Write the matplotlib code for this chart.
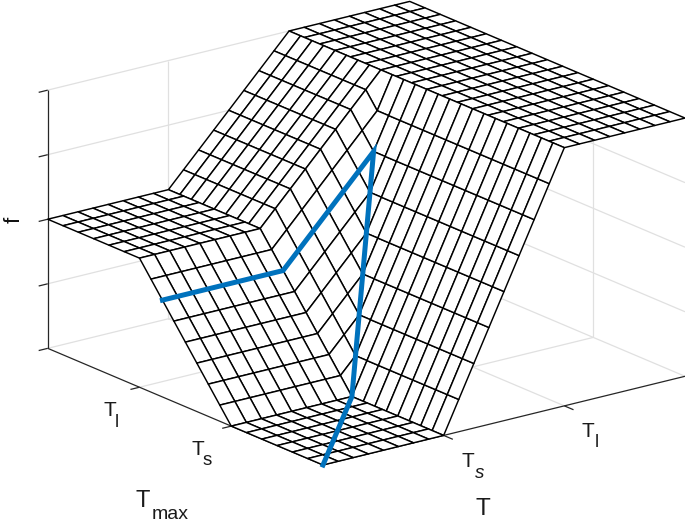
import matplotlib
matplotlib.use("Agg")
import matplotlib.pyplot as plt
import numpy as np
from mpl_toolkits.mplot3d import proj3d

plt.rcParams['font.family'] = ['Liberation Sans', 'DejaVu Sans']

# the surface is made of patches with different mesh density, heights read in 1/16ths of f
# middle strip, Ts < T < Tl: 25 rows along Tmax, 9 nodes along T
mid_rows = [
    [0,2,4,6,8,10,12,14,16],
    [0,2,4,6,8,10,12,14,16],
    [0,2,4,6,8,10,12,14,16],
    [0,2,4,6,8,10,12,14,16],
    [0,2,4,6,8,10,12,14,16],
    [0,2,4,6,8,10,12,14,16],
    [0,2,4,6,8,10,12,14,16],
    [0,2,4,6,8,10,12,14,16],
    [0,2,4,6,8,10,12,14,16],
    [1,2,4,6,8,10,12,14,16],
    [2,3,4,6,8,10,12,14,16],
    [3,4,5,6,8,10,12,14,16],
    [4,5,6,7,8,10,12,14,16],
    [5,6,7,8,9,10,12,14,16],
    [6,7,8,9,10,11,12,14,16],
    [7,8,9,10,11,12,13,14,16],
    [8,9,10,11,12,13,14,15,16],
    [8,9,10,11,12,13,14,15,16],
    [8,9,10,11,12,13,14,15,16],
    [8,9,10,11,12,13,14,15,16],
    [8,9,10,11,12,13,14,15,16],
    [8,9,10,11,12,13,14,15,16],
    [8,9,10,11,12,13,14,15,16],
    [8,9,10,11,12,13,14,15,16],
    [8,9,10,11,12,13,14,15,16],
]
# T < Ts, Ts < Tmax < Tl: height along Tmax, constant along T
left_slope = [0, 1, 2, 3, 4, 5, 6, 7, 8]
floor_level = 0
left_plateau_level = 8
top_plateau_level = 16

# blue path on the surface
path_T = [0, 1, 1.75, 1, 0]
path_Tmax = [0, 1, 1.75, 1.75, 1.75]
path_f = [0, 0, 0.75, 0.375, 0.375]

T_ticks = [1, 2]
Tmax_ticks = [1, 2]
f_ticks = [0, 0.25, 0.5, 0.75, 1]
T_end = 3
Tmax_end = 3

GRID = '#e0e0e0'
AXIS = '#262626'
W, H = 685, 524

fig = plt.figure(figsize=(W / 100, H / 100), dpi=100)
ax = fig.add_axes([0.1, 0.1, 0.8, 0.8 * W / H], projection='3d', proj_type='ortho')
ax.computed_zorder = False
ax.view_init(elev=18.8, azim=-127.25)
ax.set_box_aspect((456, 456, 273.5))
ax.set_xlim(0, T_end)
ax.set_ylim(0, Tmax_end)
ax.set_zlim(0, 1)
ax.set_axis_off()


def to_px(t, m, z):
    x, y, _ = proj3d.proj_transform(t, m, z, ax.get_proj())
    return ax.transData.transform((x, y))


# fit the box to where the reference has it (front corner 323,465 -> T end 685,376)
ax.apply_aspect()
scale = 362 / (to_px(T_end, 0, 0)[0] - to_px(0, 0, 0)[0])
pos = ax.get_position()
ax.set_position([pos.x0, pos.y0, pos.width * scale, pos.height * scale])
ax.apply_aspect()
off = np.array([323, H - 465]) - to_px(0, 0, 0)
pos = ax.get_position()
ax.set_position([pos.x0 + off[0] / W, pos.y0 + off[1] / H, pos.width, pos.height])
ax.apply_aspect()


def seg(ts, ms, zs, color=GRID, lw=0.9, zorder=1):
    ax.plot(ts, ms, zs, color=color, lw=lw, zorder=zorder, clip_on=False, solid_capstyle='butt')


# walls and floor grid
for t in T_ticks:
    seg([t, t], [0, Tmax_end], [0, 0])
    seg([t, t], [Tmax_end, Tmax_end], [0, 1])
for m in Tmax_ticks:
    seg([0, T_end], [m, m], [0, 0])
    seg([T_end, T_end], [m, m], [0, 1])
for z in f_ticks:
    seg([0, T_end], [Tmax_end, Tmax_end], [z, z])
    seg([T_end, T_end], [0, Tmax_end], [z, z])

# axis lines and ticks
seg([0, 0], [0, Tmax_end], [0, 0], AXIS, 0.9, 2)
seg([0, T_end], [0, 0], [0, 0], AXIS, 0.9, 2)
seg([0, 0], [Tmax_end, Tmax_end], [0, 1], AXIS, 0.9, 2)
for z in f_ticks:
    seg([-0.075, 0], [Tmax_end, Tmax_end], [z, z], AXIS, 0.9, 2)
for m in Tmax_ticks:
    seg([-0.075, 0], [m, m], [0, 0], AXIS, 0.9, 2)
for t in T_ticks:
    seg([t, t], [-0.1, 0], [0, 0], AXIS, 0.9, 2)


def patch(t0, t1, m0, m1, levels, zorder):
    # levels: rows along Tmax, 9 nodes along T, in 1/16ths
    levels = np.array(levels) / 16.0
    tt, mm = np.meshgrid(np.linspace(t0, t1, levels.shape[1]), np.linspace(m0, m1, levels.shape[0]))
    ax.plot_surface(tt, mm, levels, rstride=1, cstride=1, color='white',
                    edgecolor='black', linewidth=1.05, shade=False, zorder=zorder)


# back to front, the camera sits on the low T, low Tmax side
patch(2, 3, 0, 3, [[top_plateau_level] * 9] * 19, 3.0)
patch(1, 2, 0, 3, mid_rows, 3.1)
patch(0, 1, 2, 3, [[left_plateau_level] * 9] * 7, 3.2)
patch(0, 1, 1, 2, [[v] * 9 for v in left_slope], 3.3)
patch(0, 1, 0, 1, [[floor_level] * 9] * 7, 3.4)

ax.plot(path_T, path_Tmax, path_f, color='#0072BD', lw=3.6, zorder=4, clip_on=False,
        solid_joinstyle='miter')


def label(px, py, s, size, **kw):
    # px, py = left end and baseline, in picture pixels
    fig.text(px / W, 1 - py / H, s, fontsize=size, ha='left', va='baseline', color='#1a1a1a', **kw)


fig.text(14 / W, 1 - 220 / H, 'f', fontsize=16, rotation=90, ha='center', va='center', color='#111111')
label(103, 416, 'T', 15)
label(115, 427, 'l', 13)
label(191, 455, 'T', 15)
label(203, 465, 's', 13.5)
label(136, 507, 'T', 17)
label(152, 519, 'max', 14)
label(461, 467, 'T', 15)
label(475, 478, 's', 13.5, style='italic')
label(582, 437, 'T', 15)
label(595, 447, 'l', 13)
label(475, 515, 'T', 17.5)

fig.savefig('out.png', dpi=100)
